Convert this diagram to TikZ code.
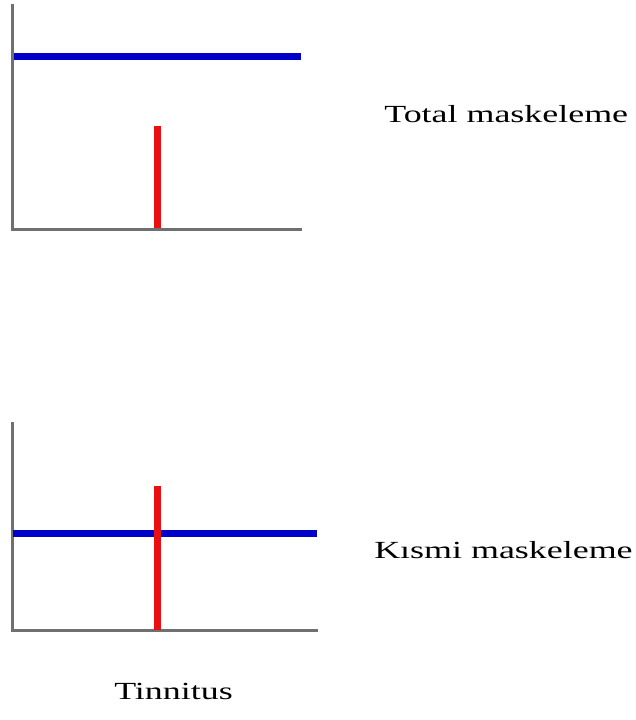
\documentclass[tikz,border=0pt]{standalone}
\usepackage{fontspec}
\setmainfont{Liberation Serif}
\definecolor{axisgray}{RGB}{112,112,112}
\definecolor{maskblue}{RGB}{0,0,200}
\definecolor{tinred}{RGB}{232,16,16}
\begin{document}
\begin{tikzpicture}[x=1pt,y=-1pt,
  axisline/.style={draw=axisgray,line width=3pt},
  maskline/.style={draw=maskblue,line width=7.5pt},
  tinline/.style={draw=tinred,line width=7pt},
  lbl/.style={inner sep=0pt,anchor=base west,xscale=1.46,font=\fontsize{24.6}{29}\selectfont}]
\useasboundingbox (0,0) rectangle (636,720);
% upper panel: total masking
\coordinate (t0) at (12.7,229);
\draw[tinline] (157.5,229) -- (157.5,125.7);
\draw[maskline] (12.7,56.5) -- (301,56.5);
\draw[axisline] (12.7,4) -- (t0) -- (302,229);
\node[lbl] (total) at (384,122.5) {Total maskeleme};
% lower panel: partial masking
\coordinate (k0) at (12.7,630);
\draw[axisline] (12.7,422) -- (k0) -- (318,630);
\draw[maskline] (12.7,533.5) -- (317,533.5);
\draw[tinline] (157.3,630) -- (157.3,486);
\node[lbl] (kismi) at (374,558) {Kısmi maskeleme};
\node[lbl] (tinnitus) at (114,699) {Tinnitus};
\end{tikzpicture}
\end{document}
